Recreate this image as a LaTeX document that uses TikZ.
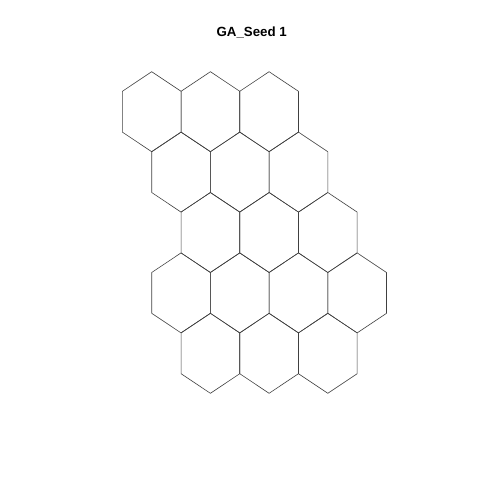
\documentclass[tikz,border=0pt]{standalone}
\usepackage{fontspec}
\setmainfont{Liberation Sans}
\begin{document}
\begin{tikzpicture}[x=1pt,y=-1pt,
  hexline/.style={draw=black!75,line width=0.6pt,line join=round},
  titletext/.style={font=\fontsize{13.3}{15}\selectfont\bfseries,anchor=base,inner sep=0pt}]
\useasboundingbox (0,0) rectangle (480,480);
\node[titletext] (title) at (251.7,36.5) {GA\_Seed 1};
\def\hw{29.35}
\foreach \r/\ks in {0/{0,2,4},1/{1,3,5},2/{2,4,6},3/{1,3,5,7},4/{2,4,6}}{
  \foreach \k in \ks {
    \pgfmathsetmacro{\cx}{151.7+\k*\hw}
    \pgfmathsetmacro{\cy}{111.7+\r*60.4}
    \draw[hexline] (\cx,\cy-40) -- (\cx+\hw,\cy-20.4) -- (\cx+\hw,\cy+20.4)
      -- (\cx,\cy+40) -- (\cx-\hw,\cy+20.4) -- (\cx-\hw,\cy-20.4) -- cycle;
  }
}
\end{tikzpicture}
\end{document}
